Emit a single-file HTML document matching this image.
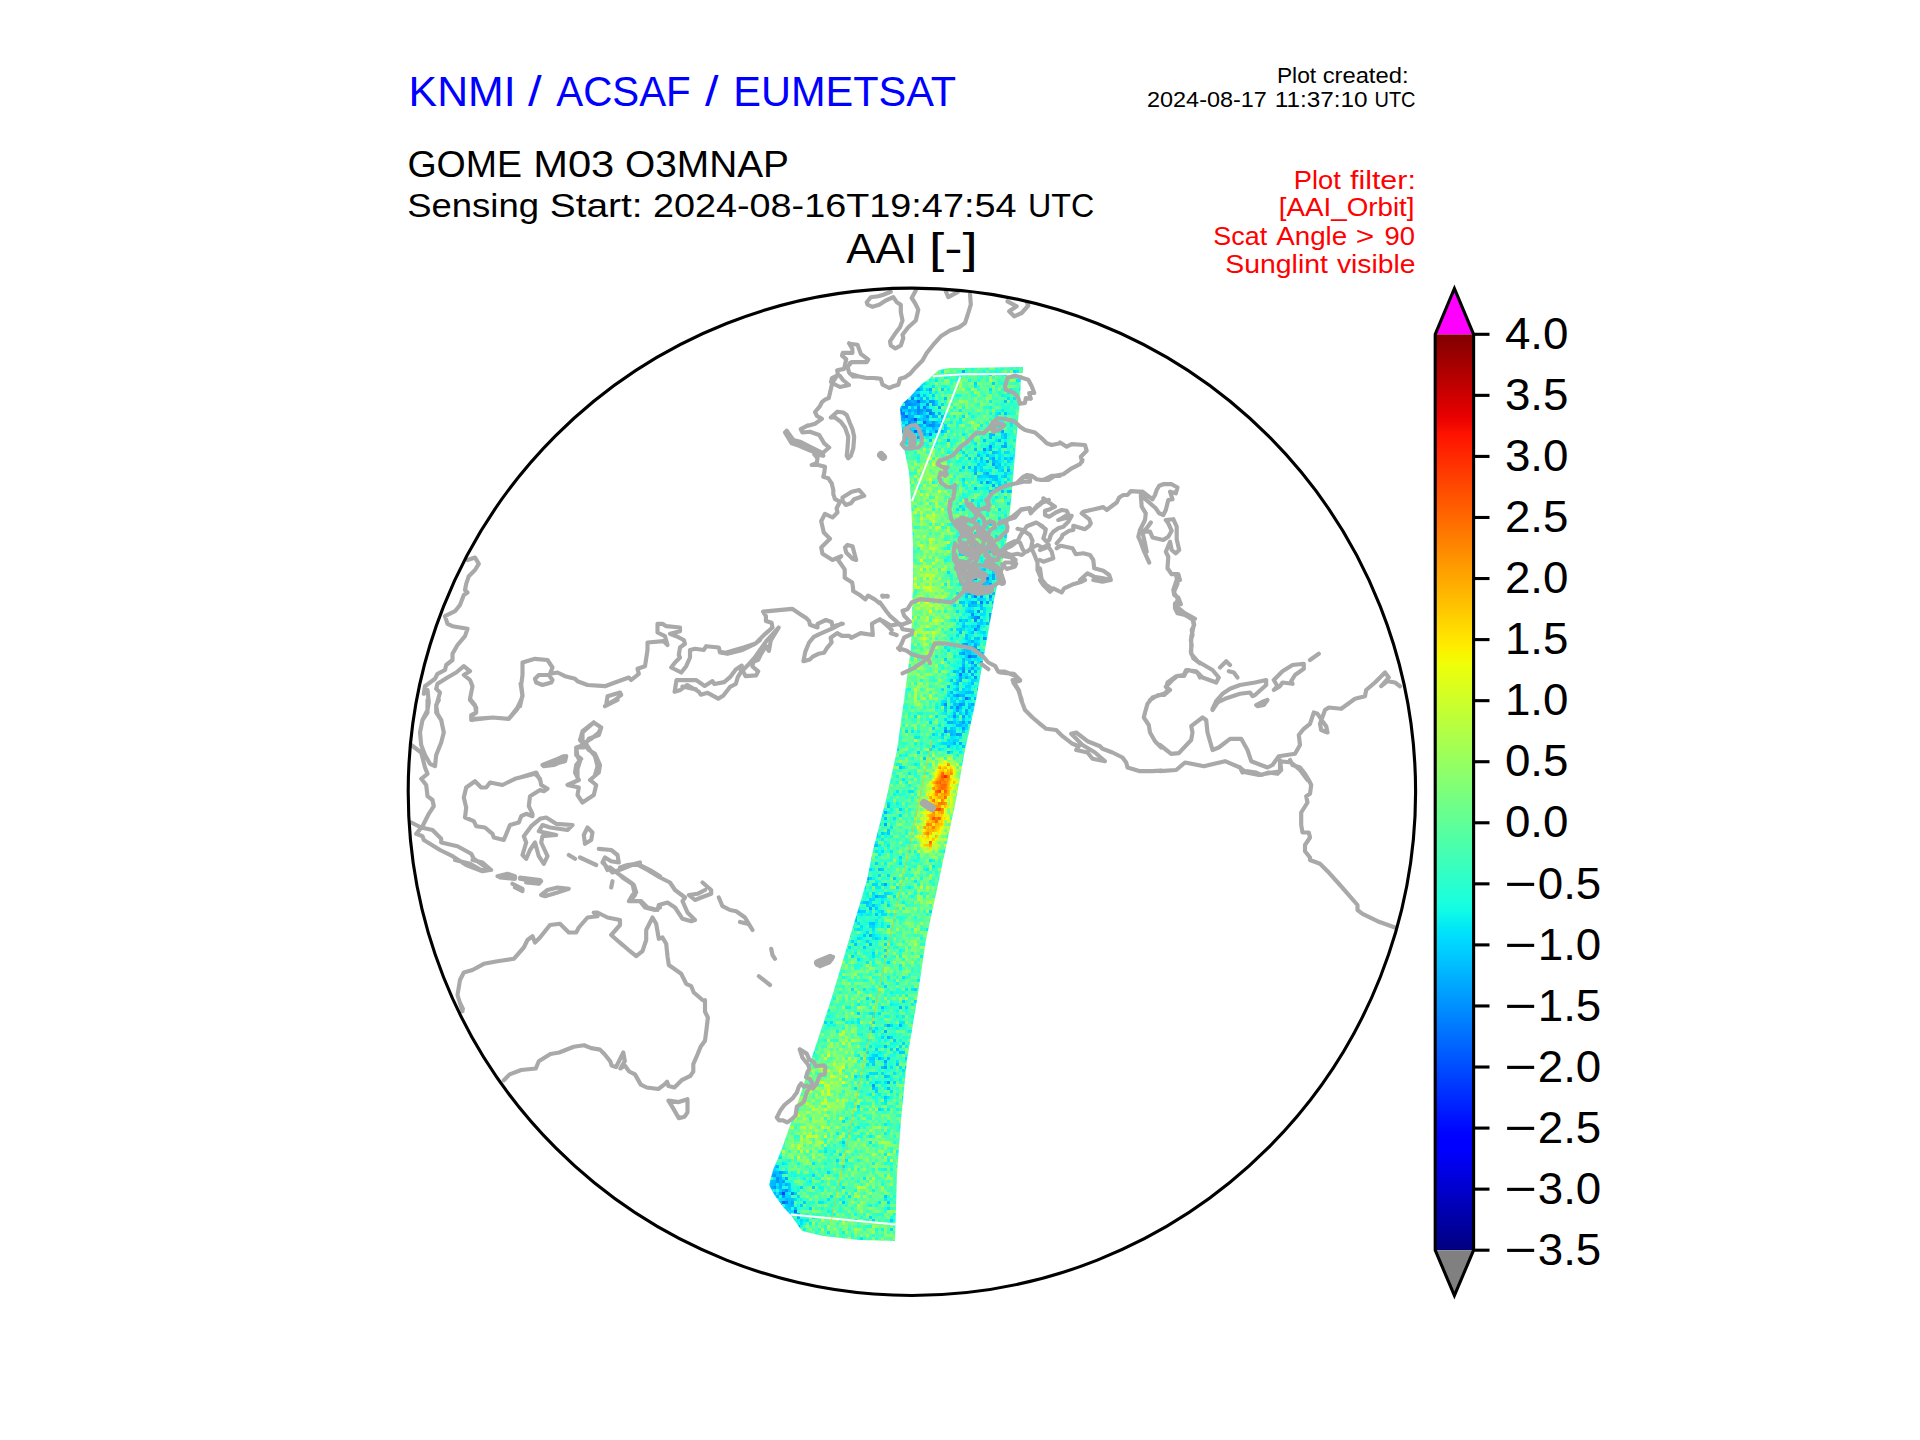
<!DOCTYPE html>
<html><head><meta charset="utf-8"><style>
html,body{margin:0;padding:0;background:#fff;width:1920px;height:1440px;overflow:hidden}
svg{display:block;font-family:"Liberation Sans",sans-serif}
</style></head><body>
<svg width="1920" height="1440" viewBox="0 0 1920 1440">
<defs>
<linearGradient id="jet" x1="0" y1="0" x2="0" y2="1">
<stop offset="0.000" stop-color="#800000"/>
<stop offset="0.010" stop-color="#8b0000"/>
<stop offset="0.020" stop-color="#970000"/>
<stop offset="0.030" stop-color="#a20000"/>
<stop offset="0.040" stop-color="#ae0000"/>
<stop offset="0.050" stop-color="#b90000"/>
<stop offset="0.060" stop-color="#c50000"/>
<stop offset="0.070" stop-color="#d10000"/>
<stop offset="0.080" stop-color="#dc0000"/>
<stop offset="0.090" stop-color="#e80000"/>
<stop offset="0.100" stop-color="#f30900"/>
<stop offset="0.110" stop-color="#ff1300"/>
<stop offset="0.120" stop-color="#ff1c00"/>
<stop offset="0.130" stop-color="#ff2600"/>
<stop offset="0.140" stop-color="#ff2f00"/>
<stop offset="0.150" stop-color="#ff3900"/>
<stop offset="0.160" stop-color="#ff4200"/>
<stop offset="0.170" stop-color="#ff4c00"/>
<stop offset="0.180" stop-color="#ff5500"/>
<stop offset="0.190" stop-color="#ff5e00"/>
<stop offset="0.200" stop-color="#ff6800"/>
<stop offset="0.210" stop-color="#ff7100"/>
<stop offset="0.220" stop-color="#ff7b00"/>
<stop offset="0.230" stop-color="#ff8400"/>
<stop offset="0.240" stop-color="#ff8e00"/>
<stop offset="0.250" stop-color="#ff9700"/>
<stop offset="0.260" stop-color="#ffa100"/>
<stop offset="0.270" stop-color="#ffaa00"/>
<stop offset="0.280" stop-color="#ffb300"/>
<stop offset="0.290" stop-color="#ffbd00"/>
<stop offset="0.300" stop-color="#ffc600"/>
<stop offset="0.310" stop-color="#ffd000"/>
<stop offset="0.320" stop-color="#ffd900"/>
<stop offset="0.330" stop-color="#ffe300"/>
<stop offset="0.340" stop-color="#ffec00"/>
<stop offset="0.350" stop-color="#f7f600"/>
<stop offset="0.360" stop-color="#efff08"/>
<stop offset="0.370" stop-color="#e6ff10"/>
<stop offset="0.380" stop-color="#deff19"/>
<stop offset="0.390" stop-color="#d6ff21"/>
<stop offset="0.400" stop-color="#ceff29"/>
<stop offset="0.410" stop-color="#c5ff31"/>
<stop offset="0.420" stop-color="#bdff3a"/>
<stop offset="0.430" stop-color="#b5ff42"/>
<stop offset="0.440" stop-color="#adff4a"/>
<stop offset="0.450" stop-color="#a5ff52"/>
<stop offset="0.460" stop-color="#9cff5a"/>
<stop offset="0.470" stop-color="#94ff63"/>
<stop offset="0.480" stop-color="#8cff6b"/>
<stop offset="0.490" stop-color="#84ff73"/>
<stop offset="0.500" stop-color="#7bff7b"/>
<stop offset="0.510" stop-color="#73ff84"/>
<stop offset="0.520" stop-color="#6bff8c"/>
<stop offset="0.530" stop-color="#63ff94"/>
<stop offset="0.540" stop-color="#5aff9c"/>
<stop offset="0.550" stop-color="#52ffa5"/>
<stop offset="0.560" stop-color="#4affad"/>
<stop offset="0.570" stop-color="#42ffb5"/>
<stop offset="0.580" stop-color="#3affbd"/>
<stop offset="0.590" stop-color="#31ffc5"/>
<stop offset="0.600" stop-color="#29ffce"/>
<stop offset="0.610" stop-color="#21ffd6"/>
<stop offset="0.620" stop-color="#19ffde"/>
<stop offset="0.630" stop-color="#10fae6"/>
<stop offset="0.640" stop-color="#08f0ef"/>
<stop offset="0.650" stop-color="#00e5f7"/>
<stop offset="0.660" stop-color="#00dbff"/>
<stop offset="0.670" stop-color="#00d1ff"/>
<stop offset="0.680" stop-color="#00c7ff"/>
<stop offset="0.690" stop-color="#00bdff"/>
<stop offset="0.700" stop-color="#00b2ff"/>
<stop offset="0.710" stop-color="#00a8ff"/>
<stop offset="0.720" stop-color="#009eff"/>
<stop offset="0.730" stop-color="#0094ff"/>
<stop offset="0.740" stop-color="#008aff"/>
<stop offset="0.750" stop-color="#0080ff"/>
<stop offset="0.760" stop-color="#0075ff"/>
<stop offset="0.770" stop-color="#006bff"/>
<stop offset="0.780" stop-color="#0061ff"/>
<stop offset="0.790" stop-color="#0057ff"/>
<stop offset="0.800" stop-color="#004dff"/>
<stop offset="0.810" stop-color="#0042ff"/>
<stop offset="0.820" stop-color="#0038ff"/>
<stop offset="0.830" stop-color="#002eff"/>
<stop offset="0.840" stop-color="#0024ff"/>
<stop offset="0.850" stop-color="#0019ff"/>
<stop offset="0.860" stop-color="#000fff"/>
<stop offset="0.870" stop-color="#0005ff"/>
<stop offset="0.880" stop-color="#0000ff"/>
<stop offset="0.890" stop-color="#0000ff"/>
<stop offset="0.900" stop-color="#0000f3"/>
<stop offset="0.910" stop-color="#0000e8"/>
<stop offset="0.920" stop-color="#0000dc"/>
<stop offset="0.930" stop-color="#0000d1"/>
<stop offset="0.940" stop-color="#0000c5"/>
<stop offset="0.950" stop-color="#0000b9"/>
<stop offset="0.960" stop-color="#0000ae"/>
<stop offset="0.970" stop-color="#0000a2"/>
<stop offset="0.980" stop-color="#000097"/>
<stop offset="0.990" stop-color="#00008b"/>
<stop offset="1.000" stop-color="#000080"/>
</linearGradient>
<clipPath id="globe"><circle cx="911.9" cy="791.8" r="503.7"/></clipPath>
<filter id="jetmap" filterUnits="userSpaceOnUse" x="740" y="340" width="300" height="920" color-interpolation-filters="sRGB">
<feGaussianBlur in="SourceGraphic" stdDeviation="7" result="field"/>
<feTurbulence type="fractalNoise" baseFrequency="0.6 0.45" numOctaves="1" seed="3" result="noise"/>
<feColorMatrix in="noise" type="matrix" values="1 0 0 0 0  1 0 0 0 0  1 0 0 0 0  0 0 0 0 1" result="n0"/>
<feFlood x="741" y="341" width="1" height="1" flood-color="#fff" result="dot"/>
<feComposite in="dot" in2="dot" operator="over" x="740" y="340" width="3" height="3" result="cell"/>
<feTile in="cell" result="grid"/>
<feComposite in="n0" in2="grid" operator="in" result="sampled"/>
<feMorphology in="sampled" operator="dilate" radius="1" result="n1"/>
<feComposite in="field" in2="n1" operator="arithmetic" k1="0" k2="1" k3="0.45" k4="-0.225" result="val"/>
<feComponentTransfer in="val">
<feFuncR type="table" tableValues="0.000 0.000 0.000 0.000 0.000 0.000 0.000 0.000 0.000 0.000 0.000 0.000 0.000 0.000 0.000 0.000 0.000 0.000 0.000 0.000 0.000 0.000 0.000 0.000 0.000 0.000 0.000 0.000 0.000 0.000 0.000 0.000 0.000 0.000 0.000 0.000 0.031 0.063 0.098 0.129 0.161 0.192 0.227 0.259 0.290 0.322 0.353 0.388 0.420 0.451 0.482 0.518 0.549 0.580 0.612 0.647 0.678 0.710 0.741 0.773 0.808 0.839 0.871 0.902 0.937 0.969 1.000 1.000 1.000 1.000 1.000 1.000 1.000 1.000 1.000 1.000 1.000 1.000 1.000 1.000 1.000 1.000 1.000 1.000 1.000 1.000 1.000 1.000 1.000 1.000 0.953 0.910 0.863 0.820 0.773 0.725 0.682 0.635 0.592 0.545 0.502"/>
<feFuncG type="table" tableValues="0.000 0.000 0.000 0.000 0.000 0.000 0.000 0.000 0.000 0.000 0.000 0.000 0.000 0.020 0.059 0.098 0.141 0.180 0.220 0.259 0.302 0.341 0.380 0.420 0.459 0.502 0.541 0.580 0.620 0.659 0.698 0.741 0.780 0.820 0.859 0.898 0.941 0.980 1.000 1.000 1.000 1.000 1.000 1.000 1.000 1.000 1.000 1.000 1.000 1.000 1.000 1.000 1.000 1.000 1.000 1.000 1.000 1.000 1.000 1.000 1.000 1.000 1.000 1.000 1.000 0.965 0.925 0.890 0.851 0.816 0.776 0.741 0.702 0.667 0.631 0.592 0.557 0.518 0.482 0.443 0.408 0.369 0.333 0.298 0.259 0.224 0.184 0.149 0.110 0.075 0.035 0.000 0.000 0.000 0.000 0.000 0.000 0.000 0.000 0.000 0.000"/>
<feFuncB type="table" tableValues="0.502 0.545 0.592 0.635 0.682 0.725 0.773 0.820 0.863 0.910 0.953 1.000 1.000 1.000 1.000 1.000 1.000 1.000 1.000 1.000 1.000 1.000 1.000 1.000 1.000 1.000 1.000 1.000 1.000 1.000 1.000 1.000 1.000 1.000 1.000 0.969 0.937 0.902 0.871 0.839 0.808 0.773 0.741 0.710 0.678 0.647 0.612 0.580 0.549 0.518 0.482 0.451 0.420 0.388 0.353 0.322 0.290 0.259 0.227 0.192 0.161 0.129 0.098 0.063 0.031 0.000 0.000 0.000 0.000 0.000 0.000 0.000 0.000 0.000 0.000 0.000 0.000 0.000 0.000 0.000 0.000 0.000 0.000 0.000 0.000 0.000 0.000 0.000 0.000 0.000 0.000 0.000 0.000 0.000 0.000 0.000 0.000 0.000 0.000 0.000 0.000"/>
<feFuncA type="linear" slope="0" intercept="1"/>
</feComponentTransfer>
</filter>
<clipPath id="swclip"><polygon points="933,375 939,370 949,368 963,368 1023,367 1023,375 1021,376 1020,400 1016,443 1011,502 1006,545 994,600 985,650 976,700 965,750 956,800 939,880 926,940 917,1000 907,1060 901,1120 897,1174 895,1241 859,1240 823,1236 802,1231 790,1214 784,1208 775,1196 769,1185 773,1170 781,1151 792,1120 802,1090 811,1060 821,1030 831,1000 849,940 867,880 873,850 886,800 897,750 904,700 911,647 913,580 913,545 911,502 909,472 903,443 901,420 900,408 903,403 910,397 916,390 923,383 929,379"/></clipPath>
</defs>
<g id="swath" clip-path="url(#swclip)">
<g filter="url(#jetmap)">
<polygon points="933,375 939,370 949,368 963,368 1023,367 1023,375 1021,376 1020,400 1016,443 1011,502 1006,545 994,600 985,650 976,700 965,750 956,800 939,880 926,940 917,1000 907,1060 901,1120 897,1174 895,1241 859,1240 823,1236 802,1231 790,1214 784,1208 775,1196 769,1185 773,1170 781,1151 792,1120 802,1090 811,1060 821,1030 831,1000 849,940 867,880 873,850 886,800 897,750 904,700 911,647 913,580 913,545 911,502 909,472 903,443 901,420 900,408 903,403 910,397 916,390 923,383 929,379" fill="#707070" stroke="#707070" stroke-width="40" stroke-linejoin="round"/>
<ellipse cx="916" cy="408" rx="20" ry="36" transform="rotate(-35 916 408)" fill="#414141" fill-opacity="0.7"/>
<ellipse cx="905" cy="425" rx="8" ry="20" transform="rotate(0 905 425)" fill="#363636" fill-opacity="0.5"/>
<ellipse cx="980" cy="410" rx="35" ry="30" transform="rotate(0 980 410)" fill="#777777" fill-opacity="0.5"/>
<ellipse cx="992" cy="465" rx="22" ry="30" transform="rotate(0 992 465)" fill="#4b4b4b" fill-opacity="0.55"/>
<ellipse cx="1005" cy="420" rx="8" ry="30" transform="rotate(0 1005 420)" fill="#4e4e4e" fill-opacity="0.5"/>
<ellipse cx="930" cy="505" rx="22" ry="55" transform="rotate(0 930 505)" fill="#8b8b8b" fill-opacity="0.6"/>
<ellipse cx="928" cy="600" rx="17" ry="55" transform="rotate(0 928 600)" fill="#969696" fill-opacity="0.6"/>
<ellipse cx="978" cy="610" rx="15" ry="50" transform="rotate(10 978 610)" fill="#444444" fill-opacity="0.6"/>
<ellipse cx="922" cy="680" rx="14" ry="35" transform="rotate(10 922 680)" fill="#888888" fill-opacity="0.5"/>
<ellipse cx="962" cy="700" rx="14" ry="60" transform="rotate(12 962 700)" fill="#414141" fill-opacity="0.6"/>
<ellipse cx="915" cy="735" rx="15" ry="25" transform="rotate(12 915 735)" fill="#707070" fill-opacity="0.4"/>
<ellipse cx="938" cy="805" rx="11" ry="50" transform="rotate(14 938 805)" fill="#cfcfcf" fill-opacity="0.9"/>
<ellipse cx="943" cy="778" rx="8" ry="14" transform="rotate(14 943 778)" fill="#e7e7e7" fill-opacity="0.9"/>
<ellipse cx="930" cy="835" rx="8" ry="16" transform="rotate(14 930 835)" fill="#cfcfcf" fill-opacity="0.8"/>
<ellipse cx="875" cy="835" rx="16" ry="40" transform="rotate(15 875 835)" fill="#5c5c5c" fill-opacity="0.45"/>
<ellipse cx="868" cy="915" rx="18" ry="45" transform="rotate(15 868 915)" fill="#525252" fill-opacity="0.5"/>
<ellipse cx="915" cy="925" rx="14" ry="55" transform="rotate(14 915 925)" fill="#818181" fill-opacity="0.5"/>
<ellipse cx="852" cy="985" rx="15" ry="30" transform="rotate(15 852 985)" fill="#7e7e7e" fill-opacity="0.4"/>
<ellipse cx="822" cy="1100" rx="22" ry="75" transform="rotate(22 822 1100)" fill="#8f8f8f" fill-opacity="0.6"/>
<ellipse cx="885" cy="1050" rx="18" ry="50" transform="rotate(10 885 1050)" fill="#585858" fill-opacity="0.45"/>
<ellipse cx="872" cy="1165" rx="25" ry="45" transform="rotate(10 872 1165)" fill="#818181" fill-opacity="0.45"/>
<ellipse cx="783" cy="1190" rx="9" ry="34" transform="rotate(-25 783 1190)" fill="#3a3a3a" fill-opacity="0.75"/>
<ellipse cx="795" cy="1225" rx="8" ry="14" transform="rotate(-40 795 1225)" fill="#4b4b4b" fill-opacity="0.5"/>
<ellipse cx="845" cy="1230" rx="45" ry="8" transform="rotate(5 845 1230)" fill="#858585" fill-opacity="0.45"/>
</g>
<path d="M933,376.3 L963,374.3 L1024,374 M960.4,376.7 L912,501 M790.3,1214.4 L898,1224.7" stroke="#fff" stroke-width="2" fill="none"/>
<path d="M932,740 L879,990 L831,1222" stroke="#ffc000" stroke-opacity="0.55" stroke-width="1.2" fill="none"/>
</g>
<g clip-path="url(#globe)"><path d="M890.8 291.8 L883.3 294.7 L878.3 296.3 L870.8 297.2 L866.7 302.2 L867.5 304.7 L872.5 306.8 L879.2 304.7 L885.8 300.5 L893.3 297.2 L896.7 302.2 L900.8 304.7 L900.8 312.2 L902.5 320.5 L900.0 327.2 L895.0 333.8 L890.0 341.3 L890.8 345.5 L895.4 348.4 L900.8 345.5 L903.3 338.0 L902.5 334.7 L908.3 327.2 L915.8 320.5 L918.3 309.7 L915.0 303.0 L911.7 298.0 L915.8 290.5 M970.0 293.8 L970.8 304.7 L967.5 315.5 L965.0 323.0 L959.2 327.2 L950.0 330.5 L940.8 336.3 L933.3 344.7 L926.7 353.0 L922.5 360.5 L915.8 367.2 L910.0 373.8 L905.0 377.2 L900.0 378.8 L898.3 384.7 L893.3 386.3 L889.2 388.0 L882.5 384.7 L880.8 378.8 L877.5 378.4 L873.3 378.0 L866.7 378.0 L858.3 376.3 L850.0 373.8 M945.8 291.3 L948.3 297.2 L957.5 292.2 M850.0 343.8 L857.5 344.7 L860.8 353.8 L868.3 359.7 L866.7 362.2 L851.7 362.2 L850.0 363.0 M850.0 343.8 L849.0 343.2 L852.4 348.8 L852.4 352.9 L842.7 352.9 L842.0 355.7 L846.2 359.2 L844.1 368.9 L837.2 370.3 L837.9 374.4 L832.3 382.8 L828.8 398.0 L825.4 399.4 L821.9 402.2 L819.8 406.4 L815.0 412.0 L817.0 416.0 L821.9 418.9 L815.0 423.8 L808.0 425.8 M851.7 362.2 L847.6 366.8 L849.0 372.4 L853.1 376.5 L858.3 376.3 M838.0 375.0 L832.0 378.0 L831.0 382.0 L834.0 384.0 L840.0 387.0 L849.0 385.0 L843.0 380.0 L840.0 376.0 M807.9 425.4 L800.8 429.2 L802.5 432.5 L810.0 431.7 L819.2 435.0 L824.2 443.3 L829.2 447.5 L823.3 452.5 M823.3 453.3 L811.7 447.5 L800.0 441.7 L793.3 440.0 L786.7 430.8 L785.0 432.5 L791.7 443.3 L799.2 445.8 L810.8 450.8 L818.3 453.3 L823.3 455.8 L814.2 454.2 L817.5 458.3 L816.7 463.3 L811.7 465.0 L818.3 465.0 L825.0 466.7 L824.2 473.3 L823.3 476.7 L828.3 478.3 L831.7 483.3 L833.3 490.0 L833.3 494.2 L835.0 499.2 L840.0 501.7 L836.7 508.3 M830.8 417.5 L837.5 411.7 L843.3 412.5 L846.7 415.0 L850.0 423.3 L852.5 429.2 L854.2 436.7 L853.3 448.3 L850.8 455.8 L848.3 458.3 L846.7 455.8 L847.5 448.3 L848.3 436.7 L845.0 427.5 L840.8 421.7 L835.0 417.5 L830.8 417.5 M881.2 455.8 L884.6 457.1 M842.5 497.5 L851.7 491.7 L859.2 490.0 L864.2 495.8 L854.2 499.2 L850.8 503.3 L845.8 505.0 L842.5 500.8 L842.5 497.5 M905.0 429.2 L910.8 425.8 L915.8 425.0 L919.2 430.0 L921.7 436.7 L921.7 444.2 L918.3 447.5 L911.7 448.3 L905.0 448.3 L901.7 444.2 L904.2 440.8 L905.0 435.0 L905.0 429.2 M1060.0 443.3 L1051.7 445.0 L1046.7 443.3 L1041.7 438.3 L1035.0 432.5 L1025.0 430.0 L1020.0 426.7 L1015.0 421.7 L1006.7 419.2 L998.3 418.3 L993.3 421.7 L989.2 428.3 L983.3 433.3 L976.7 432.5 L970.8 438.3 L965.8 443.3 L961.7 445.8 L958.3 449.2 L953.3 455.0 L946.7 458.3 L939.2 460.8 L937.5 464.2 L941.7 466.7 L947.5 467.5 L945.0 470.0 L946.7 474.2 L945.0 475.8 L940.8 472.5 L939.2 477.5 L940.8 482.5 L946.7 486.7 L953.3 487.5 L955.0 485.0 L954.2 492.5 L953.3 498.3 L950.0 500.8 L949.2 510.0 M991.7 429.2 L998.3 423.3 L1004.2 425.0 L1000.0 429.2 L993.3 431.7 M1060.0 475.8 L1051.7 475.8 L1045.0 479.2 L1041.7 480.0 L1036.7 479.2 L1031.7 475.8 L1026.7 475.0 L1021.7 478.3 L1016.7 483.3 L1008.3 485.0 L1000.0 488.3 L991.7 493.3 L988.3 498.3 L988.3 510.0 M1016.7 483.3 L1023.3 476.7 L1030.0 477.5 L1030.0 481.7 L1023.3 481.7 L1016.7 483.3 M1007.5 301.3 L1016.7 306.3 L1009.2 311.3 L1014.2 316.3 L1021.7 313.0 L1028.3 305.5 L1026.7 302.2 M1005.0 386.3 L1007.5 378.0 L1015.0 375.5 L1028.3 379.7 L1031.7 386.3 L1034.2 393.0 L1029.2 393.0 L1030.8 398.8 L1025.8 398.0 L1025.0 403.0 L1020.0 403.8 L1018.3 398.0 L1014.2 393.0 L1005.8 389.7 L1005.0 386.3 M1040.0 480.0 L1048.3 480.0 L1055.0 475.8 L1063.3 474.2 L1071.7 468.3 L1080.0 464.2 L1082.5 460.0 M1040.0 503.3 L1044.2 500.0 L1050.0 503.3 L1055.0 506.7 L1050.0 509.2 L1045.0 510.8 L1045.0 515.0 L1049.2 516.7 L1055.8 512.5 L1061.7 510.0 L1066.7 510.8 L1068.3 514.2 L1061.7 518.3 L1058.3 520.0 L1065.0 518.3 L1071.7 515.8 L1068.3 521.7 L1063.3 526.7 L1058.3 528.3 L1053.3 531.7 L1050.8 535.0 L1049.2 540.0 L1046.7 541.7 L1043.3 538.3 L1045.0 533.3 L1045.8 529.2 L1040.0 525.0 M1056.7 543.3 L1061.7 537.5 L1062.5 535.0 L1069.2 530.8 L1073.3 530.0 L1073.3 525.8 L1085.0 529.2 L1089.2 525.8 L1090.8 523.3 L1089.2 519.2 L1081.7 513.3 L1083.3 511.7 L1094.2 509.2 L1103.3 507.1 L1106.7 510.0 L1113.3 505.0 L1116.7 502.5 L1119.2 497.5 L1123.3 495.0 L1127.5 495.0 L1130.8 491.2 L1138.3 491.7 L1142.5 491.7 L1146.7 495.0 L1152.5 499.2 L1155.0 495.0 L1156.7 490.0 L1159.2 485.8 L1163.3 484.2 L1171.7 484.2 L1177.5 487.5 L1175.8 493.3 L1170.0 491.7 L1172.5 499.2 L1168.3 500.0 L1165.8 510.0 L1163.3 515.0 L1159.2 513.3 L1155.8 508.3 L1142.5 496.7 L1140.8 493.3 M1140.8 495.0 L1141.7 506.7 L1145.8 513.3 L1145.0 520.0 L1140.0 530.0 L1138.3 536.7 L1140.8 542.5 L1144.2 551.7 L1149.2 562.5 M1150.8 522.5 L1146.7 528.3 L1142.5 532.5 L1145.0 543.3 L1146.7 551.7 M1145.0 531.7 L1150.0 531.7 L1152.5 537.5 L1163.3 540.0 L1168.3 536.7 L1171.7 530.8 L1168.3 523.3 L1165.8 520.0 L1173.3 519.2 L1176.7 526.7 L1176.7 539.2 L1179.2 550.0 L1175.8 553.3 L1171.7 550.0 L1170.0 541.7 L1165.8 551.7 L1168.3 556.7 L1167.5 568.3 L1171.7 574.2 L1178.3 574.2 L1180.0 580.0 M1056.7 548.3 L1060.8 545.8 L1072.5 548.3 L1075.8 554.2 L1083.3 553.3 L1090.0 555.0 L1093.3 560.0 L1094.2 568.3 L1103.3 570.8 L1109.2 575.0 L1110.8 580.0 M1040.0 568.3 L1041.7 580.0 M1080.0 580.0 L1087.5 573.3 L1094.2 576.7 L1103.3 578.3 L1110.8 580.0 M1040.0 550.0 L1048.3 546.7 L1051.7 551.7 L1053.3 558.3 L1048.3 560.0 L1043.3 561.7 L1040.0 560.0 M1060.0 442.5 L1066.7 446.7 L1071.7 444.2 L1085.0 445.0 L1086.7 450.8 L1080.8 456.7 L1082.1 461.7 M1000.0 521.7 L1006.7 520.0 L1015.0 517.5 L1020.8 510.0 L1029.2 508.3 L1030.8 513.3 L1037.5 505.0 L1044.2 501.7 L1043.3 498.3 L1046.7 500.8 M1178.1 574.4 L1176.2 575.0 L1177.5 583.8 L1173.8 592.5 L1178.8 600.0 L1177.5 607.5 L1183.8 612.5 L1195.0 618.8 M1040.0 580.0 L1043.3 585.0 L1050.0 591.7 L1053.3 588.3 L1061.7 592.5 L1064.2 588.3 L1073.3 584.2 L1081.7 581.7 L1085.0 580.0 M1093.3 580.0 L1102.5 581.7 L1110.8 580.0 M1176.7 580.0 L1173.3 590.0 L1174.2 595.0 L1178.3 597.5 L1180.8 604.2 L1175.0 603.3 L1175.0 608.3 L1177.5 613.3 L1185.0 615.0 L1193.3 620.0 L1194.2 625.0 L1191.7 630.0 L1192.5 635.0 L1190.8 640.0 L1191.7 645.0 L1190.8 651.7 L1193.3 658.3 L1200.0 663.3 M1200.0 677.5 L1197.5 672.5 L1188.3 670.0 L1185.8 672.5 L1184.2 675.8 L1177.5 675.8 L1172.5 680.0 L1165.8 686.7 L1170.0 690.0 L1164.2 695.0 L1158.3 695.0 L1150.0 700.0 M1177.5 600.0 L1175.0 607.5 L1182.5 612.5 L1192.5 618.8 L1193.8 625.0 L1191.2 637.5 L1191.2 653.8 L1197.5 661.2 L1212.5 670.0 L1218.8 677.5 L1216.2 682.5 L1202.5 677.5 L1196.2 671.2 L1186.2 670.0 L1183.8 675.0 L1176.2 676.2 L1167.5 682.5 L1166.2 687.5 L1168.8 690.0 L1163.8 693.8 L1160.0 695.0 M1220.0 667.5 L1226.2 661.2 L1230.0 665.0 M1228.8 671.2 L1233.8 672.5 L1237.5 677.5 M1212.5 708.8 L1216.2 701.2 L1222.5 693.8 L1230.0 688.8 L1240.0 685.0 L1255.0 682.5 L1266.2 680.0 L1266.2 685.0 L1255.0 695.0 L1252.5 696.2 L1250.0 692.5 L1240.0 693.8 L1225.0 698.8 L1217.5 702.5 L1212.5 710.0 M1256.2 705.0 L1263.8 701.2 L1267.5 700.0 L1263.8 705.0 L1257.5 706.2 M1273.8 680.0 L1282.5 671.2 L1292.5 665.0 L1303.8 663.8 L1303.8 668.8 L1295.0 675.0 L1291.2 681.2 L1292.5 683.8 L1282.5 682.5 L1280.0 686.2 L1273.8 690.0 L1277.5 686.2 L1273.8 680.0 M1310.0 660.0 L1318.8 653.8 M1160.0 745.0 L1171.2 753.8 L1178.8 753.1 L1191.2 740.0 L1192.5 732.5 L1191.2 726.2 L1202.5 717.5 L1206.2 720.0 L1207.5 732.5 L1212.5 750.0 L1218.8 747.5 L1230.0 738.8 L1241.2 738.8 L1247.5 750.0 L1251.2 761.2 L1267.5 767.5 L1272.5 765.0 L1278.8 756.2 L1295.0 753.8 L1300.0 745.0 L1298.8 735.0 L1303.8 728.8 L1310.0 723.8 L1313.8 712.5 L1317.5 713.8 L1322.5 721.2 L1326.2 726.2 L1327.5 732.5 L1321.2 730.0 L1320.0 723.8 L1325.0 710.0 L1328.8 707.5 L1341.2 708.8 L1355.0 698.8 L1365.0 696.2 L1366.2 690.0 L1375.0 682.5 L1385.0 672.5 L1388.8 677.5 L1381.2 686.2 L1387.5 681.2 L1395.0 682.5 L1400.0 686.2 M1160.0 771.2 L1176.2 770.0 L1185.0 762.5 L1203.8 766.2 L1225.0 761.2 L1240.0 767.5 L1246.2 772.5 L1258.8 775.0 L1272.5 772.5 L1280.0 771.2 L1280.0 761.2 L1291.2 762.5 L1300.0 770.0 L1307.5 780.0 M1000.0 672.5 L1013.8 673.8 L1020.0 680.0 L1012.5 680.0 L1018.8 690.0 L1021.2 700.0 L1025.0 710.0 L1032.5 717.5 L1040.0 723.8 L1046.2 728.8 L1056.2 730.0 L1062.5 736.2 L1072.5 743.8 L1078.8 746.2 L1076.2 750.0 L1087.5 752.5 L1092.5 758.8 L1105.0 761.2 L1095.0 752.5 L1082.5 745.0 L1071.2 733.8 L1076.2 732.5 L1087.5 741.2 L1100.0 746.2 L1102.5 748.8 L1112.5 752.5 L1122.5 757.5 L1126.2 762.5 L1127.5 767.5 L1140.0 771.2 L1152.5 771.2 L1161.2 770.6 M1160.0 695.0 L1152.5 697.5 L1147.5 703.8 L1145.0 712.5 L1143.8 717.5 L1148.8 725.0 L1150.0 732.5 L1155.0 741.2 L1161.2 747.5 M950.6 500.0 L949.4 509.4 L951.2 518.8 L956.2 526.2 L961.2 531.2 L967.5 532.5 L968.8 528.8 L963.8 524.4 L961.2 517.5 L966.2 518.8 L972.5 521.2 L977.5 515.0 L972.5 510.0 L967.5 505.0 L966.2 500.0 M986.2 500.0 L989.4 505.0 L985.0 508.1 L978.8 510.0 L973.8 508.1 L970.6 503.8 M978.8 513.8 L983.8 518.8 L985.0 525.0 L981.2 530.0 L977.5 526.2 L973.8 527.5 L970.0 532.5 L965.0 535.0 L960.0 537.5 L959.4 541.2 L965.0 543.8 L972.5 540.0 L977.5 543.8 L980.0 547.5 L977.5 551.2 L970.0 549.4 L962.5 550.0 L955.0 543.8 L953.8 550.0 L953.8 559.4 L956.2 563.1 L963.8 563.8 L970.0 565.0 L975.0 562.5 L977.5 558.8 L973.8 553.8 L980.0 552.5 M986.2 523.8 L990.0 521.2 L993.8 522.5 L995.0 527.5 L990.0 530.0 L987.5 536.2 L983.8 538.8 L980.0 535.0 L982.5 530.0 L986.2 523.8 M998.8 523.8 L1005.0 521.2 L1007.5 526.9 L1006.9 531.2 L1002.5 535.0 L998.8 538.8 L993.8 541.2 L990.0 543.8 L986.2 548.8 L985.0 555.0 L990.0 558.8 L996.2 560.0 L998.8 556.2 L1000.0 551.2 L1005.0 548.8 L1011.2 546.2 L1017.5 541.2 L1020.6 535.0 L1026.9 526.2 L1036.2 522.5 L1042.5 526.2 L1045.6 530.0 M1007.5 519.4 L1013.1 516.2 L1017.5 512.5 L1021.2 509.4 L1030.0 508.1 L1031.2 512.5 L1036.2 507.5 L1042.5 502.5 L1048.8 500.0 M1003.8 556.2 L1011.2 557.5 L1016.2 563.8 L1015.0 566.2 L1011.2 562.5 L1005.0 562.5 L1001.9 568.8 L998.8 575.0 L998.8 582.5 L992.5 586.2 L985.0 587.5 L976.2 585.0 L970.0 585.0 L962.5 583.8 L958.8 575.0 L958.8 568.8 L965.0 566.2 L970.0 568.8 L973.8 566.2 L980.0 565.0 L986.2 566.2 L992.5 568.8 M962.5 571.2 L965.0 578.8 L968.8 581.2 L972.5 577.5 L977.5 576.2 L983.8 577.5 L986.2 575.0 L982.5 572.5 M1017.5 528.8 L1022.5 530.0 L1030.0 535.0 L1032.5 540.6 L1031.2 547.5 L1035.0 556.2 L1037.5 562.5 L1037.5 570.0 L1041.2 578.8 L1046.2 585.0 L1050.0 587.5 M1027.5 551.2 L1032.5 547.5 L1037.5 545.0 L1042.5 547.5 L1048.8 545.0 M1022.5 548.8 L1025.0 552.5 L1021.9 555.0 L1017.5 553.8 L1011.2 555.0 L1006.2 553.1 L1003.8 548.8 L1008.8 543.8 L1015.0 541.2 L1020.0 542.5 L1022.5 548.8 M960.0 524.4 L968.9 520.0 L977.8 524.4 L980.0 533.3 L971.1 537.8 L962.2 535.6 L960.0 528.9 M955.6 546.7 L962.2 544.4 L971.1 548.9 L973.3 557.8 L966.7 562.2 L957.8 561.1 L954.4 553.3 M971.1 537.8 L977.8 535.6 L984.4 540.0 L982.2 546.7 L975.6 548.9 L971.1 544.4 M988.9 548.9 L995.6 546.7 L1000.0 553.3 L997.8 560.0 L991.1 560.0 L987.8 554.4 M1000.0 555.6 L1006.7 553.3 L1015.6 560.0 L1014.4 566.7 L1006.7 568.9 L1002.2 564.4 M962.2 568.9 L971.1 566.7 L980.0 571.1 L984.4 580.0 L977.8 584.4 L966.7 582.2 M999.2 582.5 L988.3 588.3 L971.7 589.2 L963.3 591.7 L958.3 596.7 L951.7 602.5 L938.3 600.8 L920.0 599.2 L911.7 602.5 L907.5 609.2 L902.5 610.8 L904.2 615.8 L910.0 621.7 L900.8 625.0 L902.5 629.2 L912.5 630.8 L911.7 634.2 L904.2 637.5 L901.7 643.3 L899.2 648.3 L906.7 650.8 L911.7 654.2 L920.0 656.7 L926.7 657.5 M902.5 673.3 L913.3 668.3 L923.3 661.7 L930.0 655.0 L933.3 646.7 L935.0 643.3 L943.3 643.3 L955.0 645.0 L971.7 648.3 L983.3 656.7 L988.3 662.5 L995.0 665.8 L998.3 671.7 L1005.0 671.7 L1015.0 675.8 L1020.0 680.8 L1013.3 682.5 L1018.3 690.0 L1021.7 700.0 M928.3 658.3 L930.0 663.3 M981.7 664.2 L988.3 669.2 M880.0 602.5 L886.7 611.7 L890.8 616.7 L896.7 621.7 L900.0 625.0 M880.0 619.2 L888.3 626.7 L891.7 630.0 M890.8 633.3 L896.7 635.0 M882.5 596.7 L887.5 595.8 M838.1 560.0 L844.7 569.4 L844.7 577.8 L852.2 582.5 L853.1 588.1 L853.1 590.9 L860.6 595.6 L865.3 599.4 L868.1 595.6 L874.7 599.4 L879.4 603.1 M882.2 595.6 L887.8 596.6 M900.0 623.8 L890.6 625.6 L883.1 620.9 L878.4 620.0 L871.9 623.8 L872.8 635.0 L860.6 633.1 L851.2 637.8 L849.4 635.9 L841.9 635.9 L837.2 633.1 L830.6 637.8 L831.6 642.5 L826.9 648.1 L824.1 652.8 L818.4 653.8 L812.8 656.6 L810.0 659.4 L803.4 661.2 L805.3 651.9 L809.1 642.5 L813.8 636.9 L819.4 634.1 L832.5 628.4 L840.9 623.8 M842.8 623.8 L832.5 626.6 L831.6 621.9 L825.9 620.0 L817.5 623.8 L817.5 627.5 L810.0 624.7 L809.1 620.9 L806.2 618.1 L800.6 614.4 L792.2 608.8 L763.1 611.6 L765.9 616.2 L765.9 620.9 L771.6 622.8 L772.5 627.5 L765.0 634.1 L755.6 643.4 L744.4 647.2 L725.6 652.8 L720.0 651.9 M898.1 648.1 L900.0 650.0 M891.6 633.1 L896.2 635.0 M520.0 706.2 L522.5 695.0 L521.2 685.0 L522.5 675.0 L522.5 662.5 L535.0 658.8 L547.5 660.0 L552.5 667.5 L550.0 673.8 L557.5 672.5 L565.0 676.2 L575.0 678.8 L577.5 681.2 L587.5 685.0 L605.0 686.2 L615.0 682.5 L628.8 677.5 L631.2 680.0 L638.8 673.8 L637.5 668.8 L645.0 666.2 L647.5 650.0 L647.5 642.5 L663.8 641.2 L667.5 645.0 L665.0 636.2 L657.5 632.5 L657.5 623.8 L662.5 623.8 L666.2 626.2 L680.0 627.5 L680.0 631.2 L670.0 633.8 L676.2 636.2 L683.8 640.0 L685.0 643.8 L680.0 647.5 L678.8 655.0 L680.0 657.5 L675.0 662.5 L671.2 667.5 L681.2 672.5 L686.2 666.2 L690.0 657.5 L690.0 650.0 L695.0 648.8 L703.8 650.0 L706.2 646.2 L718.8 647.5 L720.0 652.5 L727.5 653.8 L742.5 650.0 L755.0 643.8 L760.0 640.0 M535.0 678.8 L538.8 675.0 L548.8 675.0 L552.5 680.0 L551.2 682.5 L542.5 685.0 L536.2 682.5 L535.0 678.8 M606.2 705.0 L607.5 696.2 L620.0 692.5 L621.2 695.0 L615.0 700.0 L606.2 705.0 M593.8 722.5 L601.2 727.5 L598.8 732.5 L591.2 738.8 L585.0 742.5 L590.0 750.0 L595.0 756.2 L597.5 766.2 L595.0 775.0 M593.8 722.5 L582.5 731.2 L580.0 740.0 L583.8 745.0 L576.2 747.5 L577.5 756.2 L580.0 761.2 L577.5 768.8 L577.5 777.5 M542.5 765.0 L552.5 761.2 L563.8 756.2 L565.0 760.0 L553.8 765.0 L543.8 766.2 M520.0 777.5 L536.2 772.5 L540.0 780.0 M467.5 560.0 L475.0 557.5 L478.8 563.8 L475.0 570.0 L468.8 576.2 L466.2 583.8 L465.0 590.0 L467.5 592.5 L463.8 595.0 L460.0 605.0 L455.0 611.2 L445.0 616.2 L447.5 623.8 L452.5 626.2 L467.5 628.8 L465.0 636.2 L457.5 645.0 L452.5 653.8 L452.5 660.0 L446.2 665.0 L445.0 670.0 L437.5 673.8 L435.0 678.8 L425.0 686.2 L423.8 693.8 L427.5 690.0 L428.8 702.5 L427.5 710.0 L422.5 720.0 M436.2 688.8 L437.5 683.8 L447.5 677.5 L456.2 672.5 L463.8 666.2 L470.0 671.2 L463.8 675.0 L470.0 680.0 L472.5 686.2 L470.0 698.8 L475.0 705.0 L476.2 712.5 L471.2 716.2 L472.5 720.0 M436.2 688.8 L440.0 692.5 L436.2 706.2 L437.5 713.8 L441.2 720.0 M520.6 683.8 L522.5 696.2 L517.5 708.8 L508.8 718.8 L492.5 717.5 L475.0 718.8 M427.5 700.0 L427.5 712.5 L422.5 720.0 L420.0 732.5 L421.2 745.0 L425.0 755.0 L430.0 763.8 L435.0 766.2 L436.2 755.0 L441.2 742.5 L443.8 732.5 L441.2 720.0 L436.2 712.5 L436.2 705.0 L438.8 700.0 M470.0 700.0 L476.2 707.5 L476.2 712.5 L471.2 715.0 L471.2 720.0 L492.5 717.5 L508.8 718.8 L517.5 707.5 L521.2 700.0 M411.2 745.0 L421.2 752.5 L425.0 767.5 L427.5 773.8 L421.2 778.8 L426.2 785.0 L427.5 796.2 L432.5 800.0 L433.8 806.2 L428.8 813.8 L422.5 826.2 L416.2 833.8 M411.2 822.5 L421.2 827.5 L432.5 830.0 L441.2 838.8 L441.2 842.5 L457.5 846.2 L471.2 853.8 L473.8 858.8 L490.0 870.0 L482.5 871.2 L466.2 865.0 L452.5 856.2 L440.0 850.0 L423.8 840.0 L422.5 836.2 L416.2 833.8 M463.8 797.5 L466.2 787.5 L475.0 781.2 L481.2 787.5 L486.2 787.5 L490.0 782.5 L502.5 785.0 L515.0 778.8 L535.0 773.8 L540.0 778.8 L541.2 785.0 L547.5 788.8 L543.8 791.2 L540.0 790.0 L530.0 796.2 L528.8 806.2 L532.5 813.8 L532.5 816.2 L526.2 813.8 L521.2 816.2 L518.8 822.5 L510.0 825.0 L503.8 840.0 L493.8 837.5 L492.5 833.8 L485.0 827.5 L476.2 826.2 L473.8 821.2 L465.0 817.5 L466.2 807.5 L463.8 797.5 M540.0 818.8 L546.2 817.5 L556.2 823.8 L572.5 825.0 L567.5 830.0 L550.0 827.5 L542.5 825.0 L538.8 831.2 L556.2 835.0 L542.5 836.2 L541.2 842.5 L547.5 856.2 L543.8 863.8 L538.8 856.2 L535.0 842.5 L530.0 850.0 L526.2 858.8 L522.5 855.0 L526.2 842.5 L523.8 836.2 L531.2 826.2 L540.0 818.8 M542.5 765.0 L555.0 760.0 L566.2 756.2 L565.0 761.2 L550.0 765.0 L542.5 765.0 M593.8 722.5 L601.2 727.5 L598.8 735.0 L588.8 738.8 L583.8 747.5 L576.2 747.5 L576.2 755.0 L581.2 758.8 L576.2 765.0 L575.0 772.5 L578.8 780.0 L567.5 785.0 L578.8 787.5 L577.5 795.0 L582.5 802.5 L593.8 795.0 L596.2 785.0 L590.0 780.0 L598.8 772.5 L600.0 765.0 L595.0 753.8 L588.8 750.0 L582.5 741.2 L582.5 732.5 L593.8 722.5 M585.0 843.8 L583.8 835.0 L587.5 827.5 L592.5 832.5 L591.2 840.0 L585.0 843.8 M568.8 855.0 L575.0 858.8 M580.0 857.5 L596.2 865.0 M598.8 848.8 L611.2 850.0 L617.5 855.0 L618.8 862.5 L611.2 861.2 L605.0 857.5 L602.5 862.5 L607.5 867.5 L612.5 872.5 L622.5 868.8 L635.0 863.8 L640.0 862.5 M497.5 876.2 L508.8 875.0 L515.0 877.5 M520.0 877.5 L540.0 880.0 M605.0 706.2 L617.5 700.0 M620.0 867.5 L627.5 865.0 L636.2 863.8 L647.5 870.0 L660.0 877.5 L670.0 882.5 L675.0 890.0 L685.0 897.5 L682.5 901.2 L687.5 912.5 L695.0 920.0 L691.2 921.2 L682.5 918.8 L675.0 907.5 L667.5 902.5 L658.8 905.0 L657.5 910.0 L647.5 907.5 L641.2 901.2 L628.8 901.2 L632.5 895.0 L636.2 892.5 L633.8 885.0 L622.5 877.5 L620.0 875.0 M702.5 882.5 L711.2 890.0 L711.2 893.8 L701.2 897.5 L695.0 900.0 L688.8 895.0 L697.5 893.8 L705.0 890.0 M718.8 897.5 L722.5 906.2 L730.0 910.0 L736.2 911.2 L745.0 917.5 L748.8 923.8 L752.5 930.0 M740.0 921.9 L747.5 923.8 M771.2 948.8 L772.5 955.0 L775.0 958.8 M820.0 966.2 L825.0 961.2 L832.5 957.5 M758.8 976.2 L770.0 985.0 M620.0 942.5 L630.0 951.2 L636.2 956.2 L642.5 951.2 L646.2 940.0 L646.2 930.0 L652.5 917.5 L656.2 923.8 L658.8 938.8 L662.5 937.5 L666.2 943.8 L667.5 956.2 L668.8 965.0 L681.2 973.8 L686.2 983.8 L691.2 986.2 L693.8 992.5 L702.5 1000.0 M462.5 1011.2 L457.5 995.0 L460.0 980.0 L463.8 972.5 L472.5 970.0 L483.8 963.8 L497.5 961.2 L513.8 958.8 L523.8 947.5 L527.5 940.0 L532.5 936.2 L535.0 942.5 L540.0 937.5 L550.0 925.0 L560.0 923.8 L568.8 932.5 L576.2 932.5 L578.8 927.5 L587.5 917.5 L597.5 916.2 L593.8 912.5 L597.5 912.5 L607.5 917.5 L620.0 920.0 L620.0 925.0 L611.2 935.0 L622.5 945.0 M455.0 860.0 L470.0 863.8 L481.2 870.0 L491.2 870.0 L482.5 862.5 L472.5 860.0 M497.5 876.2 L507.5 873.8 L515.0 876.2 L515.0 878.8 L500.0 877.5 M520.0 878.8 L532.5 881.2 L541.2 881.2 L538.8 883.8 L526.2 882.5 M512.5 883.8 L522.5 888.8 L522.5 891.2 L515.0 887.5 M541.2 895.0 L547.5 890.0 L557.5 887.5 L568.8 888.8 L557.5 892.5 L545.0 896.2 L541.2 895.0 M612.5 881.2 L611.2 887.5 M603.8 862.5 L607.5 870.0 L610.0 867.5 L620.0 875.0 L632.5 883.8 L635.0 895.0 L630.0 901.2 L640.0 901.2 L645.0 907.5 L655.0 910.0 L660.0 907.5 M620.0 867.5 L630.0 865.0 L640.0 865.0 L650.0 870.0 L660.0 876.2 M503.8 1080.2 L509.6 1074.4 L521.2 1070.0 L535.8 1068.5 L538.8 1061.2 L550.4 1054.0 L559.2 1052.5 L573.8 1046.7 L584.0 1045.2 L591.2 1048.1 L600.0 1049.6 L604.4 1054.0 L610.2 1061.2 L611.7 1065.6 L616.0 1067.1 L623.3 1052.5 L624.8 1061.2 L620.4 1068.5 L624.8 1065.6 L629.2 1071.5 L635.0 1074.4 L640.8 1084.6 L646.7 1087.5 L658.3 1089.0 L664.2 1084.6 L667.1 1081.7 L668.5 1086.0 L674.4 1087.5 L681.7 1080.2 L690.4 1075.8 L693.3 1071.5 L693.3 1064.2 L697.7 1054.0 L700.6 1046.7 L705.0 1040.8 L706.5 1029.2 L707.9 1017.5 L705.0 1011.7 L705.0 1000.0 M668.5 1100.6 L672.9 1107.9 L678.8 1118.1 L684.6 1116.7 L687.5 1112.3 L687.5 1099.2 L678.8 1102.1 L668.5 1100.6 M460.0 1002.9 L462.9 1008.8 M799.7 1049.4 L806.7 1053.6 L809.4 1059.9 L813.6 1061.9 L815.7 1066.1 L823.3 1065.4 L825.4 1066.8 L824.7 1074.4 L819.9 1075.1 L816.4 1084.2 L812.9 1088.3 L812.2 1082.8 L809.4 1078.6 L806.0 1077.2 L807.4 1072.4 L809.4 1068.9 L808.1 1064.7 L802.5 1057.8 L799.7 1049.4 M801.1 1083.5 L799.0 1086.2 L796.9 1092.5 L792.8 1098.1 L784.4 1105.0 L780.3 1110.6 L776.8 1117.5 L778.9 1120.3 L783.1 1120.3 L787.2 1122.4 L792.1 1118.9 L795.6 1115.4 L796.9 1106.4 L802.5 1102.9 L803.9 1101.5 L806.7 1092.5 L810.1 1086.9 L806.7 1085.6 L803.9 1086.9 L801.1 1083.5 M1290.0 760.0 L1292.5 765.0 L1300.0 767.5 L1305.0 773.8 L1308.8 780.0 L1311.2 785.0 L1310.0 793.8 L1306.2 796.2 L1307.5 802.5 L1301.2 812.5 L1301.2 825.0 L1302.5 832.5 L1308.8 832.5 L1310.0 837.5 L1305.0 845.0 L1305.0 851.2 L1310.0 857.5 L1310.0 860.0 L1320.0 863.8 L1327.5 871.2 L1340.0 885.0 L1357.5 905.0 L1357.5 910.0 L1362.5 913.8 L1377.5 921.2 L1395.0 927.5 M1240.0 767.5 L1242.5 772.5 L1247.5 771.2 L1256.2 772.5 L1261.2 775.0 L1268.8 772.5 L1277.5 773.8 L1281.2 770.0 L1280.0 760.0 M836.6 508.2 L837.5 512.5 L832.5 517.5 L825.0 513.8 L821.2 521.2 L823.8 532.5 L830.0 538.8 L821.2 547.5 L822.5 553.8 L832.5 560.0 L841.2 556.2 L838.1 559.4 M847.5 545.0 L852.5 546.2 L856.2 560.0 L852.5 558.8 L846.2 552.5 L845.0 547.5 L847.5 545.0 M819.1 964.0 L826.0 960.5 L833.0 957.0 L829.5 962.2 L820.8 965.7 L819.1 964.0 M778.6 627.6 L770.8 640.3 L768.9 651.0 L766.0 646.1 L761.1 653.9 L758.2 659.7 L753.3 661.7 L752.4 666.5 L758.2 671.4 L756.2 675.3 L745.6 676.2 L742.6 670.4 L747.5 665.6 L755.3 656.8 L766.9 640.3 L778.6 627.6 M741.7 665.6 L735.8 669.4 L730.0 677.2 L724.2 682.1 L714.4 684.0 L712.5 681.1 L704.7 686.0 L696.0 680.1 L676.5 680.1 L674.6 691.8 L680.4 689.9 L687.2 685.0 L698.9 691.8 L700.8 694.7 L707.6 692.8 L718.3 698.6 L723.2 695.7 L730.0 686.9 L735.8 684.0 L737.8 677.2 L740.7 672.4 L741.7 665.6 M682.4 686.5 L689.2 687.9 L696.0 689.4" fill="none" stroke="#a9a9a9" stroke-width="4.17" stroke-linejoin="round" stroke-linecap="round"/><path d="M958.0 522.0 L968.0 530.0 L972.0 542.0 M962.0 550.0 L975.0 556.0 L982.0 548.0 M958.0 568.0 L966.0 575.0 L976.0 572.0 M980.0 530.0 L990.0 540.0 L995.0 552.0 M988.0 562.0 L998.0 570.0 L1002.0 582.0 M966.0 588.0 L978.0 592.0 L990.0 590.0 M907.0 432.0 L913.0 438.0 L912.0 444.0 M881.0 455.0 L883.0 457.0 M924.0 803.0 L932.0 808.0 M818.0 963.0 L830.0 958.0" fill="none" stroke="#a9a9a9" stroke-width="8" stroke-linejoin="round" stroke-linecap="round"/></g>
<circle cx="911.9" cy="791.8" r="503.7" fill="none" stroke="#000" stroke-width="3.1"/>
<rect x="1435.2" y="334.3" width="38.399999999999864" height="915.9000000000001" fill="url(#jet)"/>
<polygon points="1435.2,334.3 1454.4,288.5 1473.6,334.3" fill="#ff00ff"/>
<polygon points="1435.2,1250.2 1454.4,1295.5 1473.6,1250.2" fill="#808080"/>
<polygon points="1435.2,334.3 1454.4,288.5 1473.6,334.3 1473.6,1250.2 1454.4,1295.5 1435.2,1250.2" fill="none" stroke="#000" stroke-width="3.1" stroke-linejoin="miter" stroke-miterlimit="10"/>
<g stroke="#000" stroke-width="3.1"><line x1="1473.6" y1="334.30" x2="1489.5" y2="334.30"/><line x1="1473.6" y1="395.36" x2="1489.5" y2="395.36"/><line x1="1473.6" y1="456.42" x2="1489.5" y2="456.42"/><line x1="1473.6" y1="517.48" x2="1489.5" y2="517.48"/><line x1="1473.6" y1="578.54" x2="1489.5" y2="578.54"/><line x1="1473.6" y1="639.60" x2="1489.5" y2="639.60"/><line x1="1473.6" y1="700.66" x2="1489.5" y2="700.66"/><line x1="1473.6" y1="761.72" x2="1489.5" y2="761.72"/><line x1="1473.6" y1="822.78" x2="1489.5" y2="822.78"/><line x1="1473.6" y1="883.84" x2="1489.5" y2="883.84"/><line x1="1473.6" y1="944.90" x2="1489.5" y2="944.90"/><line x1="1473.6" y1="1005.96" x2="1489.5" y2="1005.96"/><line x1="1473.6" y1="1067.02" x2="1489.5" y2="1067.02"/><line x1="1473.6" y1="1128.08" x2="1489.5" y2="1128.08"/><line x1="1473.6" y1="1189.14" x2="1489.5" y2="1189.14"/><line x1="1473.6" y1="1250.20" x2="1489.5" y2="1250.20"/></g>
<text transform="translate(1504.90 349.00) scale(1.0350 1)" font-size="44.20" fill="#000" text-anchor="start">4.0</text><text transform="translate(1504.90 410.06) scale(1.0350 1)" font-size="44.20" fill="#000" text-anchor="start">3.5</text><text transform="translate(1504.90 471.12) scale(1.0350 1)" font-size="44.20" fill="#000" text-anchor="start">3.0</text><text transform="translate(1504.90 532.18) scale(1.0350 1)" font-size="44.20" fill="#000" text-anchor="start">2.5</text><text transform="translate(1504.90 593.24) scale(1.0350 1)" font-size="44.20" fill="#000" text-anchor="start">2.0</text><text transform="translate(1504.90 654.30) scale(1.0350 1)" font-size="44.20" fill="#000" text-anchor="start">1.5</text><text transform="translate(1504.90 715.36) scale(1.0350 1)" font-size="44.20" fill="#000" text-anchor="start">1.0</text><text transform="translate(1504.90 776.42) scale(1.0350 1)" font-size="44.20" fill="#000" text-anchor="start">0.5</text><text transform="translate(1504.90 837.48) scale(1.0350 1)" font-size="44.20" fill="#000" text-anchor="start">0.0</text><text transform="translate(1504.60 898.54) scale(1.2600 1)" font-size="44.20" fill="#000" text-anchor="start">−</text><text transform="translate(1537.70 898.54) scale(1.0350 1)" font-size="44.20" fill="#000" text-anchor="start">0.5</text><text transform="translate(1504.60 959.60) scale(1.2600 1)" font-size="44.20" fill="#000" text-anchor="start">−</text><text transform="translate(1537.70 959.60) scale(1.0350 1)" font-size="44.20" fill="#000" text-anchor="start">1.0</text><text transform="translate(1504.60 1020.66) scale(1.2600 1)" font-size="44.20" fill="#000" text-anchor="start">−</text><text transform="translate(1537.70 1020.66) scale(1.0350 1)" font-size="44.20" fill="#000" text-anchor="start">1.5</text><text transform="translate(1504.60 1081.72) scale(1.2600 1)" font-size="44.20" fill="#000" text-anchor="start">−</text><text transform="translate(1537.70 1081.72) scale(1.0350 1)" font-size="44.20" fill="#000" text-anchor="start">2.0</text><text transform="translate(1504.60 1142.78) scale(1.2600 1)" font-size="44.20" fill="#000" text-anchor="start">−</text><text transform="translate(1537.70 1142.78) scale(1.0350 1)" font-size="44.20" fill="#000" text-anchor="start">2.5</text><text transform="translate(1504.60 1203.84) scale(1.2600 1)" font-size="44.20" fill="#000" text-anchor="start">−</text><text transform="translate(1537.70 1203.84) scale(1.0350 1)" font-size="44.20" fill="#000" text-anchor="start">3.0</text><text transform="translate(1504.60 1264.90) scale(1.2600 1)" font-size="44.20" fill="#000" text-anchor="start">−</text><text transform="translate(1537.70 1264.90) scale(1.0350 1)" font-size="44.20" fill="#000" text-anchor="start">3.5</text>
<text transform="translate(408.62 106.00) scale(1.0263 1)" font-size="41.67" fill="#0000ff" text-anchor="start">KNMI</text>
<text transform="translate(528.10 106.00) scale(1.1750 1)" font-size="41.67" fill="#0000ff" text-anchor="start">/</text>
<text transform="translate(556.25 106.00) scale(0.9678 1)" font-size="41.67" fill="#0000ff" text-anchor="start">ACSAF</text>
<text transform="translate(705.00 106.00) scale(1.1667 1)" font-size="41.67" fill="#0000ff" text-anchor="start">/</text>
<text transform="translate(733.26 106.00) scale(0.9957 1)" font-size="41.67" fill="#0000ff" text-anchor="start">EUMETSAT</text>
<text x="407.40" y="177.00" font-size="37.50" fill="#000" text-anchor="start">GOME</text>
<text transform="translate(533.16 177.00) scale(1.1118 1)" font-size="37.50" fill="#000" text-anchor="start">M03</text>
<text transform="translate(625.03 177.00) scale(1.0351 1)" font-size="37.50" fill="#000" text-anchor="start">O3MNAP</text>
<text transform="translate(407.21 216.80) scale(1.0949 1)" font-size="33.33" fill="#000" text-anchor="start">Sensing</text>
<text transform="translate(549.77 216.80) scale(1.1667 1)" font-size="33.33" fill="#000" text-anchor="start">Start:</text>
<text transform="translate(652.93 216.80) scale(1.1343 1)" font-size="33.33" fill="#000" text-anchor="start">2024-08-16T19:47:54</text>
<text transform="translate(1028.06 216.80) scale(0.9677 1)" font-size="33.33" fill="#000" text-anchor="start">UTC</text>
<text transform="translate(846.25 262.90) scale(1.0548 1)" font-size="41.67" fill="#000" text-anchor="start">AAI</text>
<text transform="translate(929.06 262.90) scale(1.3145 1)" font-size="41.67" fill="#000" text-anchor="start">[-]</text>
<text transform="translate(1276.90 83.00) scale(1.0514 1)" font-size="21.70" fill="#000" text-anchor="start">Plot</text>
<text transform="translate(1322.65 83.00) scale(1.0954 1)" font-size="21.70" fill="#000" text-anchor="start">created:</text>
<text transform="translate(1147.02 106.90) scale(1.0798 1)" font-size="21.70" fill="#000" text-anchor="start">2024-08-17</text>
<text transform="translate(1274.66 106.90) scale(1.1225 1)" font-size="21.70" fill="#000" text-anchor="start">11:37:10</text>
<text transform="translate(1374.46 106.90) scale(0.9214 1)" font-size="21.70" fill="#000" text-anchor="start">UTC</text>
<text transform="translate(1293.71 189.20) scale(1.0927 1)" font-size="25.00" fill="#ff0000" text-anchor="start">Plot</text>
<text transform="translate(1350.00 189.20) scale(1.2154 1)" font-size="25.00" fill="#ff0000" text-anchor="start">filter:</text>
<text transform="translate(1278.68 215.60) scale(1.1118 1)" font-size="25.00" fill="#ff0000" text-anchor="start">[AAI_Orbit]</text>
<text transform="translate(1213.32 245.00) scale(1.0755 1)" font-size="25.00" fill="#ff0000" text-anchor="start">Scat</text>
<text transform="translate(1276.20 245.00) scale(1.1111 1)" font-size="25.00" fill="#ff0000" text-anchor="start">Angle</text>
<text transform="translate(1355.84 245.00) scale(1.2615 1)" font-size="25.00" fill="#ff0000" text-anchor="start">&gt;</text>
<text transform="translate(1384.40 245.00) scale(1.0962 1)" font-size="25.00" fill="#ff0000" text-anchor="start">90</text>
<text transform="translate(1225.26 272.90) scale(1.1371 1)" font-size="25.00" fill="#ff0000" text-anchor="start">Sunglint</text>
<text transform="translate(1336.90 272.90) scale(1.1333 1)" font-size="25.00" fill="#ff0000" text-anchor="start">visible</text>
</svg>
</body></html>
